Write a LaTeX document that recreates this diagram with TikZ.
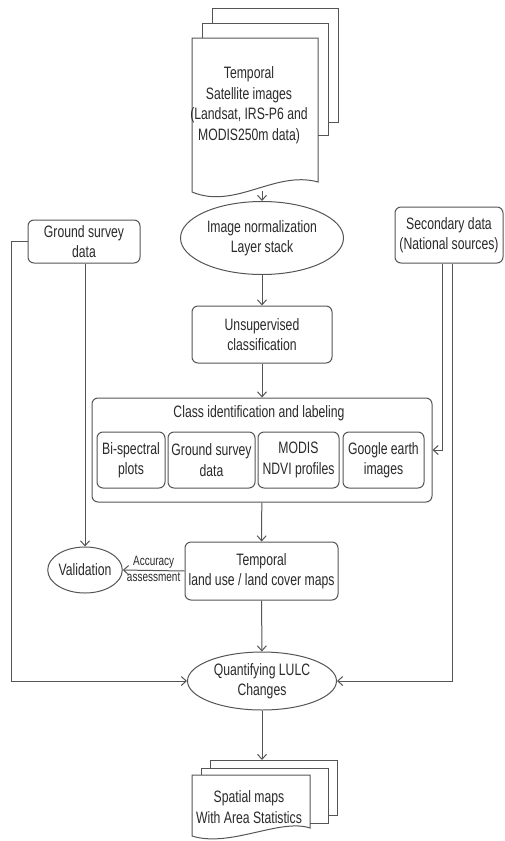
\documentclass[tikz,border=0pt]{standalone}
\usepackage{fontspec}
\setmainfont{Liberation Sans}[FakeStretch=0.74]
\usetikzlibrary{arrows.meta,shapes.geometric}
\definecolor{lncol}{HTML}{555555}
\definecolor{txcol}{HTML}{2A2A2A}
\begin{document}
\begin{tikzpicture}[x=1pt,y=-1pt,
  every node/.style={text=txcol, font=\fontsize{16.5}{20.5}\selectfont, align=center, inner sep=0pt},
  box/.style={draw=lncol, line width=1pt, rounded corners=6pt, fill=white},
  ell/.style={draw=lncol, line width=1pt, ellipse, fill=white},
  con/.style={draw=lncol, line width=1pt, -{Straight Barb[length=5pt,width=9pt]}},
  sheet/.style={draw=lncol, line width=1pt},
  small/.style={font=\fontsize{13.5}{16}\selectfont}]

\useasboundingbox (0,0) rectangle (505,841);

% top multi-document
\draw[sheet] (212,23) -- (212,8) -- (338,8) -- (338,122) -- (328,122);
\draw[sheet] (202,38) -- (202,23) -- (328,23) -- (328,135) -- (318,135);
\draw[sheet] (192,38) -- (318,38) -- (318,182) .. controls (275,170) and (235,210) .. (192,192) -- cycle;
\node (sat) at (249,105) {Temporal\\Satellite images\\(Landsat, IRS-P6 and\\MODIS250m data)};
\coordinate (satb) at (262,191);

\node[ell, minimum width=163pt, minimum height=73pt] (norm) at (262,238) {Image normalization\\Layer stack};
\node[box, minimum width=112pt, minimum height=43pt] (gsd) at (84,241.5) {Ground survey\\data};
\node[box, minimum width=108pt, minimum height=56pt] (sec) at (449,235) {Secondary data\\(National sources)};
\node[box, minimum width=140pt, minimum height=57pt] (uns) at (262,334.5) {Unsupervised\\classification};

\node[box, minimum width=340pt, minimum height=104pt] (cls) at (262,450) {};
\node (clst) at (259,413) {Class identification and labeling};
\node[box, minimum width=68pt, minimum height=56pt] (bis) at (131,460) {Bi-spectral\\plots};
\node[box, minimum width=87pt, minimum height=56pt] (gsi) at (211.5,460) {Ground survey\\data};
\node[box, minimum width=81pt, minimum height=56pt] (mod) at (298.5,460) {MODIS\\NDVI profiles};
\node[box, minimum width=81pt, minimum height=56pt] (goo) at (383.5,460) {Google earth\\images};

\node[box, minimum width=153pt, minimum height=58pt] (tlc) at (261.5,571) {Temporal\\land use / land cover maps};
\node[ell, minimum width=64pt, minimum height=46pt] (val) at (85,570) {Validation};
\node[ell, minimum width=149pt, minimum height=58pt] (qnt) at (262,681) {Quantifying LULC\\Changes};

% bottom multi-document
\draw[sheet] (210,768) -- (210,760) -- (337,760) -- (337,815) -- (328,815);
\draw[sheet] (201,775) -- (201,768) -- (328,768) -- (328,823) -- (310,823);
\draw[sheet] (192,775) -- (310,775) -- (310,828) .. controls (280,818) and (230,848) .. (192,836) -- cycle;
\node (spa) at (249,807) {Spatial maps\\With Area Statistics};
\coordinate (spat) at (262,760);

% connectors
\draw[con] (satb) -- (norm);
\draw[con] (norm) -- (uns);
\draw[con] (uns) -- (cls);
\draw[con] (cls) -- (tlc);
\draw[con] (tlc) -- (qnt);
\draw[con] (qnt) -- (spat);
\draw[con] (tlc.west) -- (val.east)
  node[midway, above=2pt, small] {Accuracy}
  node[midway, below=2pt, small] {assessment};
\draw[con] (val.north |- gsd.south) -- (val.north);
\draw[con] (gsd.west) -- ++(-16,0) |- (qnt.west);
\draw[con] ([xshift=-7pt]sec.south) |- (cls.east);
\draw[con] ([xshift=3pt]sec.south) |- (qnt.east);
\end{tikzpicture}
\end{document}
